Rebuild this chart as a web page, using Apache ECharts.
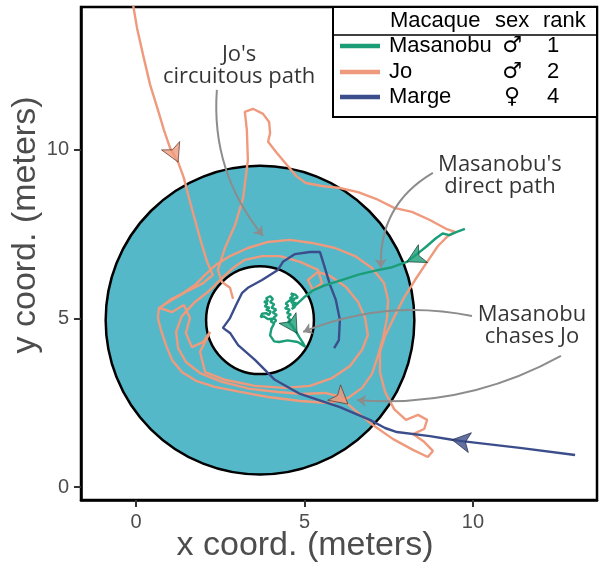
<!DOCTYPE html>
<html><head><meta charset="utf-8">
<script src="https://cdn.jsdelivr.net/npm/echarts@6/dist/echarts.min.js"></script>
<style>html,body{margin:0;padding:0;background:#fff}#c{width:600px;height:563px}</style>
</head><body><div id="c"></div>
<script>
// ---- data ----
const xTicks = [0, 5, 10];
const yTicks = [0, 5, 10];
const xRange = [-1.632, 13.68];
const yRange = [-0.386, 14.24];
const xTitle = 'x coord. (meters)';
const yTitle = 'y coord. (meters)';
// ring: centre x, centre y, outer radius, inner radius (meters)
const ringData = [[3.68, 4.95, 4.58, 1.6]];

const macaques = ['Masanobu', 'Jo', 'Marge'];
const sexes = ['♂', '♂', '♀'];
const ranks = ['1', '2', '4'];
const legendHeader = ['Macaque', 'sex', 'rank'];

const masanobuPath = [
 [9.76,7.66],[9.5,7.56],[9.3,7.47],[9.1,7.52],[8.9,7.38],[8.6,7.12],[8.3,6.88],[8.04,6.68],[7.6,6.52],[7.1,6.42],
 [6.6,6.30],[6.1,6.14],[5.6,5.98],[5.25,5.83],[4.98,5.62],[4.75,5.40],
 [4.62,5.28],[4.72,5.34],[4.64,5.40],[4.76,5.46],[4.60,5.47],[4.70,5.56],[4.56,5.60],[4.66,5.66],[4.60,5.74],[4.74,5.70],
 [4.80,5.62],[4.68,5.58],[4.54,5.52],[4.44,5.44],[4.52,5.38],[4.42,5.30],[4.56,5.26],[4.48,5.16],[4.60,5.12],[4.50,5.04],
 [4.58,4.96],[4.52,4.90],
 [4.62,4.80],[4.70,4.68],[4.78,4.56],[4.85,4.44],[4.95,4.28],[5.02,4.16],
 [4.80,4.30],[4.50,4.35],[4.25,4.30],[4.10,4.32],[3.98,4.50],[4.02,4.70],
 [4.10,4.85],[4.00,4.92],[4.08,5.00],[3.92,4.98],[3.80,5.06],[3.70,5.04],[3.74,5.14],[3.86,5.16],[3.94,5.10],[4.00,5.20],
 [3.86,5.26],[3.96,5.32],[3.82,5.36],[3.90,5.44],[3.80,5.50],[3.92,5.52],[3.86,5.60],[3.98,5.66],[4.06,5.58],[3.98,5.48],
 [4.10,5.42],[4.02,5.32],[4.16,5.26],[4.06,5.18],[4.18,5.10],[4.08,5.02],[4.16,4.94],[4.10,4.88]
];
const joPath = [
 [-0.09,14.33],[0.03,13.62],[0.21,12.82],[0.42,11.93],[0.65,11.19],[0.83,10.59],[1.01,10.06],[1.25,9.64],[1.42,9.17],[1.57,8.58],
 [1.75,7.92],[1.93,7.27],[2.11,6.68],[2.28,6.29],
 [1.99,6.05],[1.54,5.82],[1.07,5.55],[0.68,5.31],[0.65,5.01],[0.74,4.66],[0.89,4.21],[1.07,3.77],[1.36,3.41],[1.78,3.15],
 [2.34,2.97],[3.09,2.82],[3.92,2.67],[4.87,2.55],[5.70,2.49],[6.29,2.64],[6.71,2.94],[7.00,3.35],[7.18,3.89],
 [7.33,4.42],[7.45,5.01],[7.48,5.55],[7.36,6.05],[7.00,6.50],[6.50,6.85],[5.91,7.09],[5.22,7.24],[4.57,7.33],[3.92,7.27],
 [3.32,7.09],[2.79,6.85],[2.37,6.59],[2.05,6.29],[1.75,5.99],[1.36,5.73],[1.01,5.55],[0.71,5.31],
 [1.07,5.19],[1.42,5.40],[1.60,5.01],[1.48,4.57],[1.66,4.15],[1.99,4.30],[2.20,4.60],
 [1.90,4.01],[2.05,3.41],[2.64,3.18],[3.53,3.00],[4.42,2.94],[5.16,3.00],[5.82,3.23],[6.35,3.59],[6.71,4.07],[6.88,4.51],[6.80,5.01],
 [6.59,5.49],[6.23,5.93],[5.76,6.26],[5.40,6.38],[5.10,6.14],[5.25,5.85],[5.52,6.05],[5.40,6.44],[4.87,6.68],[4.27,6.85],
 [3.74,6.85],[3.23,6.74],[2.88,6.50],[2.49,6.14],
 [2.14,5.79],[1.75,5.49],[1.36,5.07],[1.19,4.60],[1.25,4.12],[1.48,3.71],[1.90,3.38],[2.55,3.12],[3.38,2.91],[4.21,2.82],
 [4.93,2.76],[5.61,2.79],[5.99,2.70],[6.29,2.46],[6.59,2.20],[7.03,1.84],[7.63,1.42],[8.22,1.10],[8.66,0.89],[8.81,1.07],
 [8.55,1.34],[8.22,1.57],[8.55,1.72],[8.64,1.99],[8.37,2.14],[8.01,1.99],[7.66,2.31],[7.39,2.82],[7.24,3.41],[7.24,4.01],
 [7.39,4.48],[7.66,5.04],[7.95,5.61],[8.28,6.14],[8.64,6.68],[8.96,7.15],[9.26,7.45],[9.47,7.57],[9.20,7.66],[8.72,7.92],
 [8.19,8.16],[7.66,8.28],[7.12,8.55],[6.59,8.75],[6.05,8.87],[5.52,8.93],[5.04,9.02],[4.75,9.23],[4.48,9.55],[4.18,9.91],
 [3.92,10.24],[3.98,10.50],[3.95,10.83],[3.77,11.07],[3.47,11.22],[3.23,11.13],[3.29,10.59],[3.32,9.70],[3.18,8.58],[2.94,7.77],
 [2.64,7.09],[2.43,6.44],[2.55,6.08],[2.79,5.91],[2.88,5.58]
];
const margePath = [
 [13.03,0.95],[11.39,1.16],[9.67,1.36],[9.38,1.40],[8.72,1.51],[7.74,1.63],[7.39,1.75],[6.94,1.99],[6.05,2.37],[4.87,2.76],
 [4.12,3.18],[3.53,3.77],[3.03,4.21],[2.79,4.57],[2.58,4.72],[2.79,5.01],[2.97,5.40],[3.15,5.76],[3.32,5.91],[3.74,6.14],
 [4.21,6.44],[4.36,6.68],[4.72,6.91],[5.16,6.97],[5.46,6.97],[5.55,6.68],[5.76,5.99],[5.93,5.55],[6.05,4.96],[6.02,4.36],[5.88,4.12]
];
// indices along each path where a direction arrow sits
const masanobuArrows = [7, 40];
const joArrows = [7, 96];
const margeArrows = [3];

const annotationTexts = ["Jo's\ncircuitous path", "Masanobu's\ndirect path", "Masanobu\nchases Jo"];
const annotationPos = [[3.06, 12.49], [10.80, 9.23], [11.75, 4.78]];
const annotationArrowFrom = [[2.40, 11.78], [8.81, 9.32], [9.97, 5.07], [12.61, 3.89]];
const annotationArrowTo = [[3.77, 7.45], [7.27, 6.50], [4.96, 4.60], [6.56, 2.58]];
const annotationCurve = [-0.2, -0.3, -0.15, 0.15];

// ---- styles ----
const colors = ['#1b9e77', '#ef9a7c', '#3b4d8a'];
const arrowStroke = ['#0b3d2e', '#5a3327', '#1a2240'];
const ringFill = '#54b8c8';
const paths = [masanobuPath, joPath, margePath];
const arrowIdx = [masanobuArrows, joArrows, margeArrows];

function arrowData(path, idxs) {
  return idxs.map(i => {
    const a = path[Math.max(0, i - 1)], b = path[Math.min(path.length - 1, i + 1)];
    const ang = Math.atan2(b[1] - a[1], b[0] - a[0]) * 180 / Math.PI;
    return { value: path[i], symbolRotate: ang - 90 };
  });
}

const chart = echarts.init(document.getElementById('c'), null, { renderer: 'canvas' });
const tickFont = { fontSize: 20, color: '#4d4d4d', fontFamily: 'Liberation Sans, Arial, sans-serif' };

const series = [];
series.push({
  type: 'custom', z: 1, data: ringData, silent: true,
  renderItem: function (params, api) {
    const c = api.coord([api.value(0), api.value(1)]);
    const ro = api.size([api.value(2), 0])[0];
    const ri = api.size([api.value(3), 0])[0];
    return { type: 'ring', shape: { cx: c[0], cy: c[1], r: ro, r0: ri },
      style: { fill: ringFill, stroke: '#000', lineWidth: 2.5 } };
  }
});
// draw order: Jo, Marge, Masanobu
[1, 2, 0].forEach((k, o) => {
  series.push({
    type: 'line', name: macaques[k], data: paths[k], showSymbol: false, z: 2 + o,
    lineStyle: { color: colors[k], width: 2.4 }, itemStyle: { color: colors[k] }, smooth: false
  });
});
[1, 2, 0].forEach((k, o) => {
  series.push({
    type: 'scatter', data: arrowData(paths[k], arrowIdx[k]), symbol: 'arrow', symbolSize: [15, 18], z: 6,
    itemStyle: { color: colors[k], borderColor: arrowStroke[k], borderWidth: 0.8 }
  });
});
series.push({
  type: 'lines', coordinateSystem: 'cartesian2d', z: 8, symbol: ['none', 'arrow'], symbolSize: 9,
  lineStyle: { color: '#8c8c8c', width: 2, opacity: 1 },
  data: annotationArrowFrom.map((p, i) => ({ coords: [p, annotationArrowTo[i]], lineStyle: { curveness: annotationCurve[i] } }))
});
series.push({
  type: 'scatter', z: 9, symbolSize: 1, itemStyle: { color: 'transparent' },
  data: annotationPos.map((p, i) => ({ value: p, name: annotationTexts[i] })),
  label: { show: true, position: 'inside', formatter: p => p.name, fontSize: 22, lineHeight: 22,
    color: '#000', textBorderWidth: 0, fontFamily: 'Open Sans, Noto Sans, sans-serif', align: 'center' }
});

// legend (graphic) built from the arrays
const L = { x: 333, y: 7, w: 264, h: 110 };
const legendFont = 'Liberation Sans, Arial, sans-serif';
const graphics = [
  { type: 'rect', shape: { x: L.x, y: L.y, width: L.w, height: L.h }, style: { fill: '#fff', stroke: '#000', lineWidth: 2 }, z: 100 },
  { type: 'line', shape: { x1: L.x, y1: 35, x2: L.x + L.w, y2: 35 }, style: { stroke: '#000', lineWidth: 1.5 }, z: 101 }
];
const headX = [390, 495, 543];
legendHeader.forEach((t, i) => graphics.push({ type: 'text', z: 101, x: headX[i], y: 21,
  style: { text: t, fontSize: 22, fontFamily: legendFont, fill: '#000', textAlign: 'left', textVerticalAlign: 'middle' } }));
const rowY = [46, 72, 97];
macaques.forEach((m, i) => {
  graphics.push({ type: 'line', z: 101, shape: { x1: 340, y1: rowY[i], x2: 380, y2: rowY[i] }, style: { stroke: colors[i], lineWidth: 4.5 } });
  graphics.push({ type: 'text', z: 101, x: 389, y: rowY[i], style: { text: m, fontSize: 22, fontFamily: legendFont, fill: '#000', textAlign: 'left', textVerticalAlign: 'middle' } });
  graphics.push({ type: 'text', z: 101, x: 512, y: rowY[i], style: { text: sexes[i], fontSize: 22, fontFamily: 'DejaVu Sans, sans-serif', fill: '#000', textAlign: 'center', textVerticalAlign: 'middle' } });
  graphics.push({ type: 'text', z: 101, x: 553, y: rowY[i], style: { text: ranks[i], fontSize: 22, fontFamily: legendFont, fill: '#000', textAlign: 'center', textVerticalAlign: 'middle' } });
});
graphics.push({ type: 'text', z: 101, x: 305, y: 546, style: { text: xTitle, fontSize: 34, fontFamily: legendFont, fill: '#4d4d4d', textAlign: 'center', textVerticalAlign: 'middle' } });
graphics.push({ type: 'text', z: 101, x: 26, y: 225, rotation: Math.PI / 2, style: { text: yTitle, fontSize: 34, fontFamily: legendFont, fill: '#4d4d4d', textAlign: 'center', textVerticalAlign: 'middle' } });

const axisLineStyle = { show: true, onZero: false, lineStyle: { color: '#000', width: 2.5 } };
const tickStyle = { show: true, inside: false, length: 7, lineStyle: { color: '#333', width: 2 } };
chart.setOption({
  animation: false,
  backgroundColor: '#fff',
  grid: { left: 81, right: 3, top: 7, bottom: 63, show: true, borderColor: '#000', borderWidth: 2.5, backgroundColor: 'transparent' },
  xAxis: { type: 'value', min: xRange[0], max: xRange[1], position: 'bottom',
    axisLine: axisLineStyle, splitLine: { show: false },
    axisTick: Object.assign({ customValues: xTicks }, tickStyle),
    axisLabel: Object.assign({ customValues: xTicks, margin: 12 }, tickFont) },
  yAxis: { type: 'value', min: yRange[0], max: yRange[1], position: 'left',
    axisLine: axisLineStyle, splitLine: { show: false },
    axisTick: Object.assign({ customValues: yTicks }, tickStyle),
    axisLabel: Object.assign({ customValues: yTicks, margin: 12 }, tickFont) },
  graphic: graphics,
  series: series
});
</script></body></html>
